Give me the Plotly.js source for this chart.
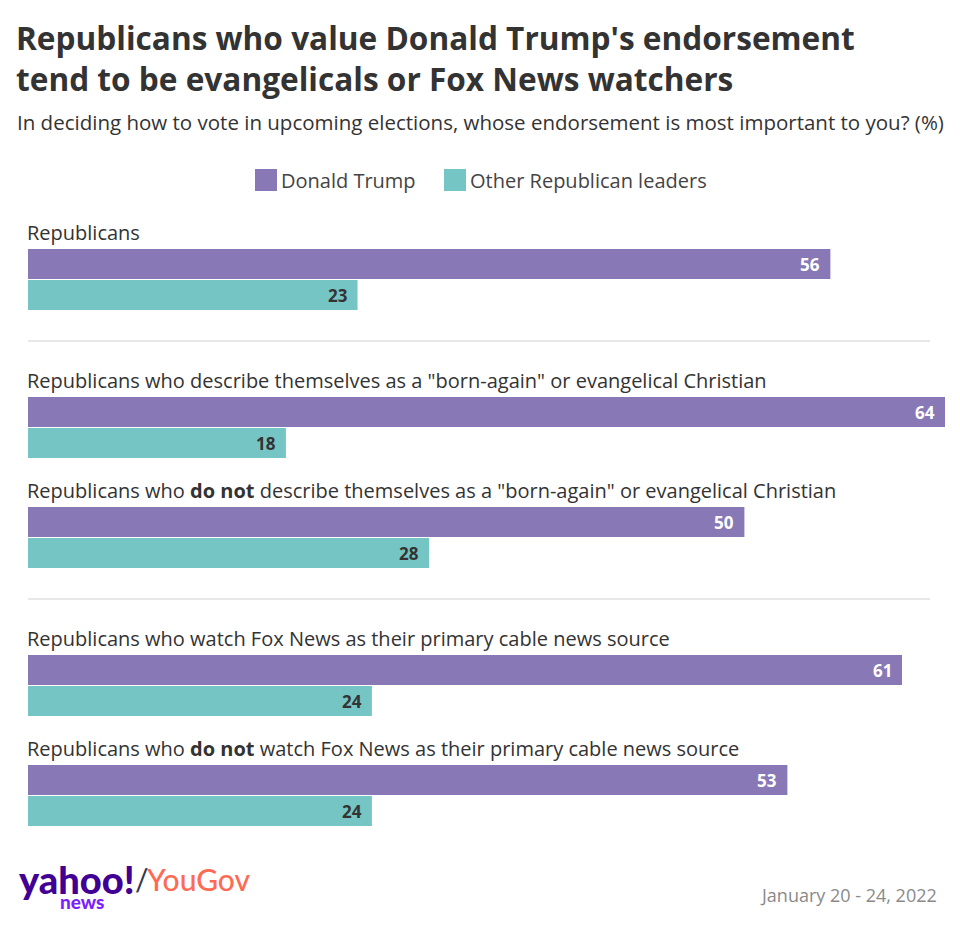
<!DOCTYPE html>
<html>
<head>
<meta charset="utf-8">
<script src="https://cdn.plot.ly/plotly-3.0.1.min.js"></script>
<style>html,body{margin:0;padding:0;background:#fff;}#chart{width:960px;height:926px;}</style>
</head>
<body>
<div id="chart"></div>
<script>
// ---- data ----
const categories = [
  "Republicans",
  "Republicans who describe themselves as a \"born-again\" or evangelical Christian",
  "Republicans who <b>do not</b> describe themselves as a \"born-again\" or evangelical Christian",
  "Republicans who watch Fox News as their primary cable news source",
  "Republicans who <b>do not</b> watch Fox News as their primary cable news source"
];
const trumpValues = [56, 64, 50, 61, 53];
const otherValues = [23, 18, 28, 24, 24];
const seriesNames = ["Donald Trump", "Other Republican leaders"];
const groupStartsSection = [false, true, false, true, false];

// ---- layout helpers ----
const W = 960, H = 926;
const M = {l: 28, r: 15, t: 200, b: 86};
const PW = W - M.l - M.r, PH = H - M.t - M.b;
const FONT = "'Open Sans', Lato, sans-serif";
const TXT = "#333333";
const PURPLE = "#8878b6", TEAL = "#74c5c3";
const px = x => (x - M.l) / PW;
const py = y => (H - M.b - y) / PH;

const GROUP_STEP = 110, SECTION_GAP = 38, FIRST = 64, BAR_STEP = 31, BAR_W = 30;
let sec = 0;
const pos = categories.map((c, i) => {
  if (groupStartsSection[i]) sec++;
  return FIRST + i * GROUP_STEP + sec * SECTION_GAP;
});
const posOther = pos.map(p => p + BAR_STEP);

const traces = [
  {type: "bar", orientation: "h", name: seriesNames[0], x: trumpValues, y: pos, width: BAR_W,
   marker: {color: PURPLE}, hoverinfo: "skip", showlegend: false},
  {type: "bar", orientation: "h", name: seriesNames[1], x: otherValues, y: posOther, width: BAR_W,
   marker: {color: TEAL}, hoverinfo: "skip", showlegend: false}
];

const annotations = [];
const shapes = [];
function ann(text, x, y, opt) {
  annotations.push(Object.assign({text, x: px(x), y: py(y), xref: "paper", yref: "paper",
    xanchor: "left", yanchor: "middle", showarrow: false,
    font: {family: FONT, size: 19, color: TXT}}, opt || {}));
}

// subtitle
ann("In deciding how to vote in upcoming elections, whose endorsement is most important to you? (%)", 15, 122, {font: {family: FONT, size: 20.5, color: TXT}});

// legend
const legendItems = [{x: 255, color: PURPLE, name: seriesNames[0]}, {x: 444, color: TEAL, name: seriesNames[1]}];
legendItems.forEach(it => {
  shapes.push({type: "rect", xref: "paper", yref: "paper", x0: px(it.x), x1: px(it.x + 22),
    y0: py(191), y1: py(169), fillcolor: it.color, line: {width: 0}});
  ann(it.name, it.x + 24, 180, {font: {family: FONT, size: 20, color: "#444"}});
});

// group labels
categories.forEach((c, i) => {
  annotations.push({text: c, x: px(25), y: pos[i] - 32, xref: "paper", yref: "y", xanchor: "left",
    yanchor: "middle", showarrow: false, font: {family: FONT, size: 20, color: TXT}});
});

// value labels
[[trumpValues, pos, "#ffffff"], [otherValues, posOther, TXT]].forEach(([vals, ys, col]) => {
  vals.forEach((v, i) => {
    annotations.push({text: String(v), x: v, y: ys[i], xref: "x", yref: "y", xanchor: "right",
      yanchor: "middle", xshift: -8, showarrow: false,
      font: {family: FONT, size: 17, color: col, weight: 700}});
  });
});

// section separators
categories.forEach((c, i) => {
  if (groupStartsSection[i]) {
    const yy = posOther[i - 1] + 15 + 31;
    shapes.push({type: "line", xref: "paper", yref: "y", x0: 0, x1: px(930), y0: yy, y1: yy,
      line: {color: "#e8e8e8", width: 2}});
  }
});

// footer
ann("yahoo!", 17, 879, {font: {family: "Lato, sans-serif", size: 38, color: "#410093", weight: 900}});
ann("news", 58, 901, {font: {family: "Lato, sans-serif", size: 19, color: "#7e1fff", weight: 900}});
ann("/", 133, 879, {font: {family: "Lato, sans-serif", size: 30, color: "#333a4a"}});
ann("YouGov", 144, 879, {font: {family: "Lato, sans-serif", size: 30, color: "#ff6a55", weight: 500}});
ann("January 20 - 24, 2022", 939, 895, {xanchor: "right", font: {family: FONT, size: 18, color: "#8a8a8a"}});

const layout = {
  width: W, height: H,
  margin: M,
  title: {
    text: "Republicans who value Donald Trump's endorsement<br>tend to be evangelicals or Fox News watchers",
    x: 16 / W, xref: "container", xanchor: "left",
    y: 1 - 50 / H, yref: "container", yanchor: "middle",
    font: {family: FONT, size: 31.6, color: TXT, weight: 700}
  },
  paper_bgcolor: "#ffffff", plot_bgcolor: "#ffffff",
  barmode: "overlay",
  showlegend: false,
  xaxis: {range: [0, 64], visible: false, fixedrange: true},
  yaxis: {range: [PH, 0], visible: false, fixedrange: true},
  annotations, shapes,
  font: {family: FONT, color: TXT}
};

Plotly.newPlot("chart", traces, layout, {displayModeBar: false, staticPlot: true});
</script>
</body>
</html>
